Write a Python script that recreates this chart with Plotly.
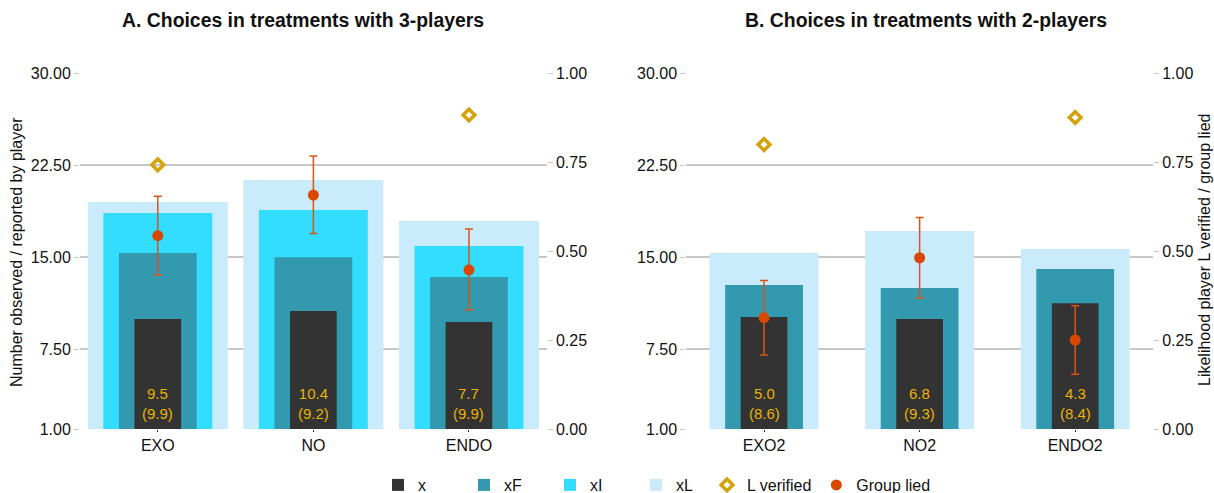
import plotly.graph_objects as go

# ---------------- data ----------------
cats_a = ["EXO", "NO", "ENDO"]
cats_b = ["EXO2", "NO2", "ENDO2"]

x_a = [9.97, 10.62, 9.72]
xF_a = [15.34, 15.0, 13.39]
xI_a = [18.6, 18.84, 15.91]
xL_a = [19.5, 21.29, 17.95]
lver_a = [0.742, None, 0.882]
lied_a = [0.543, 0.657, 0.447]
lied_hi_a = [0.654, 0.767, 0.562]
lied_lo_a = [0.432, 0.549, 0.334]
lab_med_a = ["9.5", "10.4", "7.7"]
lab_par_a = ["(9.9)", "(9.2)", "(9.9)"]

x_b = [10.13, 9.97, 11.25]
xF_b = [12.74, 12.49, 14.04]
xL_b = [15.34, 17.13, 15.67]
lver_b = [0.799, None, 0.875]
lied_b = [0.313, 0.481, 0.25]
lied_hi_b = [0.417, 0.594, 0.346]
lied_lo_b = [0.208, 0.368, 0.154]
lab_med_b = ["5.0", "6.8", "4.3"]
lab_par_b = ["(8.6)", "(9.3)", "(8.4)"]

left_ticks = [1, 7.5, 15, 22.5, 30]
right_ticks = [0, 0.25, 0.5, 0.75, 1.0]

# ---------------- styles ----------------
C_X = "#333333"
C_XF = "#3399AE"
C_XI = "#33DDFF"
C_XL = "#C9EBFB"
C_DIA = "#D4A20A"
C_DOT = "#D94801"
C_ERR = "#D9541A"
C_LAB = "#E8B400"
FONT = "Liberation Sans, Arial, Helvetica, sans-serif"

W, H = 1214, 493
ML, MR, MT, MB = 80, 61, 73, 64
PW, PH = W - ML - MR, H - MT - MB


def px_x(p):
    return (p - ML) / PW


def px_y(p):
    return (H - MB - p) / PH


fig = go.Figure()


def add_panel(cats, xs, xF, xI, xL, lver, lied, hi, lo, xa, ya, ya2, show):
    bars = [("xL", xL, C_XL, 0.9 if xI is not None else 0.7, 4),
            ("xI", xI, C_XI, 0.7, 3),
            ("xF", xF, C_XF, 0.5, 2),
            ("x", xs, C_X, 0.3, 1)]
    for name, vals, col, w, rank in bars:
        if vals is None:
            continue
        fig.add_trace(go.Bar(x=cats, y=vals, name=name, marker=dict(color=col, line=dict(width=0)),
                             width=w, xaxis=xa, yaxis=ya, legendgroup=name, legend="legend",
                             showlegend=show, legendrank=rank, hoverinfo="skip"))
    fig.add_trace(go.Scatter(x=cats, y=lver, mode="markers", name="L verified",
                             marker=dict(symbol="diamond-open", size=9, color=C_DIA,
                                         line=dict(width=3.5, color=C_DIA)),
                             xaxis=xa, yaxis=ya2, legendgroup="lv", legend="legend2",
                             showlegend=show, legendrank=5))
    fig.add_trace(go.Scatter(x=cats, y=lied, mode="markers", name="Group lied",
                             marker=dict(symbol="circle", size=11, color=C_DOT),
                             error_y=dict(type="data", symmetric=False,
                                          array=[h - v for h, v in zip(hi, lied)],
                                          arrayminus=[v - l for l, v in zip(lo, lied)],
                                          color=C_ERR, thickness=1.5, width=4),
                             xaxis=xa, yaxis=ya2, legendgroup="gl", legend="legend2",
                             showlegend=show, legendrank=6))


add_panel(cats_a, x_a, xF_a, xI_a, xL_a, lver_a, lied_a, lied_hi_a, lied_lo_a, "x", "y", "y2", True)
add_panel(cats_b, x_b, xF_b, None, xL_b, lver_b, lied_b, lied_hi_b, lied_lo_b, "x2", "y3", "y4", False)

# labels inside the x bars
for cats, med, par, xref, yref in [(cats_a, lab_med_a, lab_par_a, "x", "y"),
                                    (cats_b, lab_med_b, lab_par_b, "x2", "y3")]:
    for c, m, p in zip(cats, med, par):
        fig.add_annotation(x=c, y=1, xref=xref, yref=yref, text=f"{m}<br>{p}",
                           showarrow=False, yanchor="bottom", yshift=5,
                           font=dict(color=C_LAB, size=15, family=FONT))

dom_a = [0, 0.435]
dom_b = [0.565, 1]

left_ax = dict(range=[1, 30], tickvals=left_ticks, tickformat=".2f", showgrid=True,
               gridcolor="#C8C8C8", gridwidth=1.5, zeroline=False, showline=False,
               ticks="outside", ticklen=5, tickcolor="#C8C8C8", automargin=False,
               tickfont=dict(size=16, color="#111", family=FONT))
right_ax = dict(range=[0, 1], tickvals=right_ticks, tickformat=".2f", showgrid=False,
                zeroline=False, showline=False, ticks="outside", ticklen=5, tickcolor="#C8C8C8",
                automargin=False, tickfont=dict(size=16, color="#111", family=FONT), side="right")
x_ax = dict(showgrid=False, zeroline=False, showline=False, ticks="outside", ticklen=2,
            tickcolor="#333", automargin=False, tickfont=dict(size=16, color="#111", family=FONT))

leg_common = dict(orientation="h", yanchor="middle", y=px_y(485), xanchor="left",
                  font=dict(size=16, family=FONT, color="#111"), traceorder="normal",
                  bgcolor="rgba(0,0,0,0)")

fig.update_layout(
    width=W, height=H,
    margin=dict(l=ML, r=MR, t=MT, b=MB, autoexpand=False),
    paper_bgcolor="white", plot_bgcolor="white",
    barmode="overlay",
    font=dict(family=FONT, size=16, color="#111"),
    xaxis=dict(domain=dom_a, anchor="y", **x_ax),
    xaxis2=dict(domain=dom_b, anchor="y3", **x_ax),
    yaxis=dict(anchor="x", **left_ax),
    yaxis2=dict(anchor="x", overlaying="y", **right_ax),
    yaxis3=dict(anchor="x2", **left_ax),
    yaxis4=dict(anchor="x2", overlaying="y3", **right_ax),
    legend=dict(x=px_x(378), entrywidth=41, entrywidthmode="pixels", **leg_common),
    legend2=dict(x=px_x(707), **leg_common),
    showlegend=True,
)

# titles
for txt, cx in [("A. Choices in treatments with 3-players", 303),
                ("B. Choices in treatments with 2-players", 926)]:
    fig.add_annotation(x=px_x(cx), y=px_y(20.5), xref="paper", yref="paper",
                       text=f"<b>{txt}</b>", showarrow=False, xanchor="center", yanchor="middle",
                       font=dict(size=19.4, family=FONT, color="#111"))

fig.add_annotation(x=px_x(16), y=px_y(252), xref="paper", yref="paper",
                   text="Number observed / reported by player", textangle=-90, showarrow=False,
                   xanchor="center", yanchor="middle", font=dict(size=16, family=FONT, color="#111"))
fig.add_annotation(x=px_x(1204), y=px_y(250), xref="paper", yref="paper",
                   text="Likelihood player L verified / group lied", textangle=-90, showarrow=False,
                   xanchor="center", yanchor="middle", font=dict(size=16, family=FONT, color="#111"))

fig.write_html("out.html", config={"displayModeBar": False},
               post_script="document.body.style.margin='0px';document.body.style.padding='0px';")
